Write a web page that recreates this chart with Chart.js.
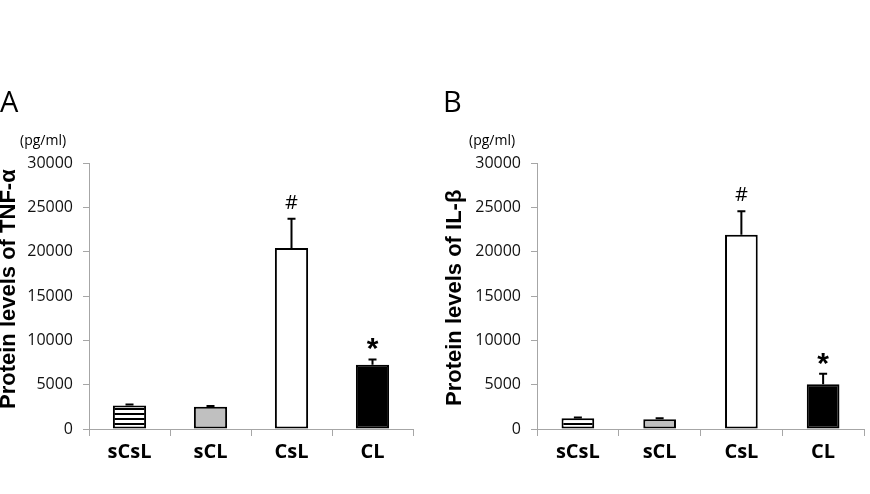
<!DOCTYPE html>
<html><head><meta charset="utf-8">
<script src="https://cdn.jsdelivr.net/npm/chart.js@4"></script>
<style>
html,body{margin:0;padding:0;background:#fff;}
#wrap{position:relative;width:870px;height:494px;overflow:hidden;background:#fff}
canvas{position:absolute;left:0;top:0}
</style>
</head><body>
<div id="wrap"><canvas id="a" width="870" height="494"></canvas><canvas id="b" width="870" height="494"></canvas></div>
<script>
// ---- data ----
const categories = ['sCsL', 'sCL', 'CsL', 'CL'];
const tnfValues = [2650, 2520, 20400, 7250];
const tnfErrors = [100, 80, 3300, 600];
const tnfMarks = ['', '', '#', '*'];
const ilValues = [1200, 1100, 21900, 5050];
const ilErrors = [100, 100, 2650, 1180];
const ilMarks = ['', '', '#', '*'];
const yMin = 0, yMax = 30000, yStep = 5000;
const panelLetters = ['A', 'B'];
const unitLabel = '(pg/ml)';
const yTitles = ['Protein levels of TNF-\u03b1', 'Protein levels of IL-\u03b2'];

// ---- styles ----
const AXIS = '#a6a6a6';
function stripePattern(ctx) {
  const c = document.createElement('canvas');
  c.width = 8; c.height = 5;
  const g = c.getContext('2d');
  g.fillStyle = '#fff'; g.fillRect(0, 0, 8, 5);
  g.fillStyle = '#000'; g.fillRect(0, 3, 8, 2);
  return ctx.createPattern(c, 'repeat');
}

const extras = {
  id: 'extras',
  afterDatasetsDraw(chart, args, o) {
    const ctx = chart.ctx, y = chart.scales.y;
    const meta = chart.getDatasetMeta(0);
    ctx.save();
    meta.data.forEach((bar, i) => {
      const v = o.values[i], e = o.errors[i];
      const yTop = y.getPixelForValue(v), yCap = y.getPixelForValue(v + e);
      ctx.strokeStyle = '#000'; ctx.lineWidth = 2;
      ctx.beginPath();
      ctx.moveTo(bar.x, yTop); ctx.lineTo(bar.x, yCap);
      ctx.moveTo(bar.x - 4, yCap); ctx.lineTo(bar.x + 4, yCap);
      ctx.stroke();
      const m = o.marks[i];
      ctx.fillStyle = '#000'; ctx.textAlign = 'center'; ctx.textBaseline = 'alphabetic';
      if (m === '#') { ctx.font = '20px "Open Sans"'; ctx.fillText(m, bar.x, yCap - 10); }
      else if (m === '*') { ctx.font = 'bold 30px "Liberation Sans"'; ctx.fillText(m, bar.x, yCap - 1); }
    });
    ctx.restore();
  },
  afterDraw(chart, args, o) {
    const ctx = chart.ctx;
    ctx.save();
    ctx.fillStyle = '#000';
    ctx.textBaseline = 'alphabetic'; ctx.textAlign = 'left';
    ctx.font = '29px "Open Sans"';
    ctx.fillText(o.letter, o.letterX, 112);
    ctx.font = '14px "Open Sans"';
    ctx.fillText(o.unit, o.unitX, 145);
    ctx.translate(o.titleX, o.titleY);
    ctx.rotate(-Math.PI / 2);
    ctx.font = 'bold 22px "Liberation Sans"';
    ctx.fillText(o.title, 0, 0);
    ctx.restore();
  }
};

function makeChart(id, values, errors, marks, p) {
  const ctx = document.getElementById(id).getContext('2d');
  return new Chart(ctx, {
    type: 'bar',
    data: {
      labels: categories,
      datasets: [{
        data: values,
        backgroundColor: [stripePattern(ctx), '#c0c0c0', '#ffffff', '#000000'],
        borderColor: '#000', borderWidth: 2, borderSkipped: false,
        categoryPercentage: 1, barPercentage: p.barPct
      }]
    },
    options: {
      responsive: false, animation: false, events: [],
      layout: { padding: { left: p.padLeft, right: p.padRight, top: 163, bottom: 0 } },
      plugins: {
        legend: { display: false }, tooltip: { enabled: false },
        extras: { values, errors, marks, letter: p.letter, letterX: p.letterX, unit: unitLabel, unitX: p.unitX,
                  title: p.title, titleX: p.titleX, titleY: p.titleY }
      },
      scales: {
        x: {
          grid: { display: true, drawOnChartArea: false, drawTicks: true, tickLength: 7, color: AXIS, offset: true },
          border: { color: AXIS, width: 1 },
          ticks: { color: '#000', font: { family: 'Open Sans', size: 20, weight: 'bold' }, padding: 4, maxRotation: 0 },
          afterFit(s) { s.height = 65; }
        },
        y: {
          min: yMin, max: yMax,
          grid: { display: true, drawOnChartArea: false, drawTicks: true, tickLength: 6, color: AXIS },
          border: { color: AXIS, width: 1 },
          ticks: { stepSize: yStep, color: '#111', font: { family: 'Open Sans', size: 16 }, padding: 10,
                   callback: (v) => String(v) },
          afterFit(s) { s.width = p.yWidth; }
        }
      }
    },
    plugins: [extras]
  });
}

makeChart('a', tnfValues, tnfErrors, tnfMarks, {
  padLeft: 0, padRight: 457, yWidth: 89, barPct: 0.41,
  letter: panelLetters[0], letterX: 0, unitX: 20, title: yTitles[0], titleX: 15, titleY: 409
});
makeChart('b', ilValues, ilErrors, ilMarks, {
  padLeft: 437, padRight: 6, yWidth: 100, barPct: 0.40,
  letter: panelLetters[1], letterX: 443, unitX: 469, title: yTitles[1], titleX: 461, titleY: 406
});
</script>
</body></html>
